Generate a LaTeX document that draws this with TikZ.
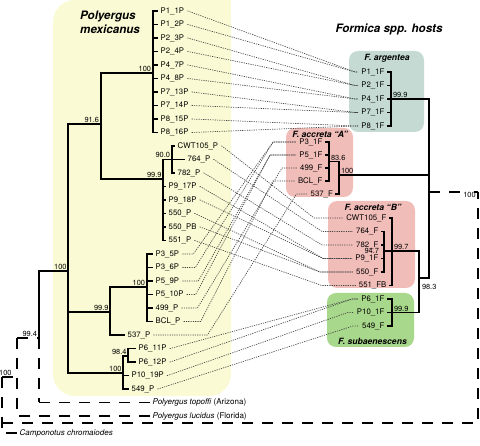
\documentclass[tikz,border=0pt]{standalone}
\usepackage{fontspec}
\setmainfont{TeX Gyre Heros}
\usetikzlibrary{calc}
\definecolor{ybg}{RGB}{250,250,212}
\definecolor{argc}{RGB}{196,218,211}
\definecolor{accc}{RGB}{241,189,185}
\definecolor{subc}{RGB}{168,216,139}
\definecolor{lnkc}{RGB}{70,70,70}
\newcommand\tipfont{\fontsize{7.8}{9}\selectfont}
\newcommand\supfont{\fontsize{7.4}{8}\selectfont}
\newcommand\boxfont{\fontsize{8.6}{10}\selectfont\bfseries\itshape}
\newcommand\titlefont{\fontsize{11.6}{14}\selectfont\bfseries\itshape}
\newcommand\outfont{\fontsize{8}{9}\selectfont}
\newcommand\lnk[4]{\draw[lnk] (#1.east) -- ++(#3,0) -- ($(#2.west)+(-#4,0)$) -- (#2.west);}
\begin{document}
\begin{tikzpicture}[x=1pt,y=-1pt,
  tipL/.style={anchor=west, inner xsep=3pt, inner ysep=1pt, font=\tipfont},
  tipR/.style={anchor=east, inner xsep=3pt, inner ysep=1pt, font=\tipfont},
  br/.style={line width=1.1pt, line cap=rect},
  dsh/.style={line width=1.2pt, dash pattern=on 11pt off 9pt},
  lnk/.style={draw=lnkc, line width=0.65pt, dash pattern=on 1.2pt off 1.1pt},
  supl/.style={font=\supfont, inner sep=0.8pt},
  boxlab/.style={font=\boxfont, inner sep=1pt}]
\useasboundingbox (0,0) rectangle (480,446);
% backgrounds
\fill[ybg, rounded corners=22] (53,0) rectangle (231,396);
\fill[ybg] (200,0) rectangle (231,30);
\fill[argc, rounded corners=9] (349,51) rectangle (424,132);
\fill[accc, rounded corners=9] (286,128) rectangle (353,197);
\fill[accc, rounded corners=9] (328,201) rectangle (415,288);
\fill[subc, rounded corners=9] (327,293) rectangle (414,347);
% titles
\node[font=\titlefont, anchor=west, align=left, inner sep=1pt] (t1) at (79,22) {Polyergus\\mexicanus};
\node[font=\titlefont, inner sep=1pt] (t2) at (389,29) {Formica spp. hosts};
\node[boxlab] (la) at (387,58) {F. argentea};
\node[boxlab] (lb) at (320,134.5) {F. accreta “A”};
\node[boxlab] (lc) at (373,207) {F. accreta “B”};
\node[boxlab] (ld) at (372.5,341) {F. subaenescens};
% Polyergus tips
\node[tipL] (p0) at (157.5,11) {P1\_1P};
\node[tipL] (p1) at (157.5,24.5) {P1\_2P};
\node[tipL] (p2) at (157.5,38) {P2\_3P};
\node[tipL] (p3) at (157.5,51.5) {P2\_4P};
\node[tipL] (p4) at (157.5,65) {P4\_7P};
\node[tipL] (p5) at (157.5,78.5) {P4\_8P};
\node[tipL] (p6) at (157.5,92) {P7\_13P};
\node[tipL] (p7) at (157.5,105.5) {P7\_14P};
\node[tipL] (p8) at (157.5,119) {P8\_15P};
\node[tipL] (p9) at (157.5,132.5) {P8\_16P};
\node[tipL] (p10) at (174.5,146) {CWT105\_P};
\node[tipL] (p11) at (184.5,159.5) {764\_P};
\node[tipL] (p12) at (174.5,173) {782\_P};
\node[tipL] (p13) at (165.5,186.5) {P9\_17P};
\node[tipL] (p14) at (165.5,200) {P9\_18P};
\node[tipL] (p15) at (165.5,213.5) {550\_P};
\node[tipL] (p16) at (165.5,227) {550\_PB};
\node[tipL] (p17) at (165.5,240.5) {551\_P};
\node[tipL] (p18) at (152.5,254) {P3\_5P};
\node[tipL] (p19) at (152.5,267.5) {P3\_6P};
\node[tipL] (p20) at (152.5,281) {P5\_9P};
\node[tipL] (p21) at (152.5,294.5) {P5\_10P};
\node[tipL] (p22) at (152.5,308) {499\_P};
\node[tipL] (p23) at (152.5,321.5) {BCL\_P};
\node[tipL] (p24) at (124.5,335) {537\_P};
\node[tipL] (p25) at (135.5,348.5) {P6\_11P};
\node[tipL] (p26) at (135.5,362) {P6\_12P};
\node[tipL] (p27) at (128.5,375.5) {P10\_19P};
\node[tipL] (p28) at (128.5,389) {549\_P};
\node[tipL,font=\outfont] (p29) at (149.5,402.5) {\textit{Polyergus topoffi} (Arizona)};
\node[tipL,font=\outfont] (p30) at (149.5,416) {\textit{Polyergus lucidus} (Florida)};
\node[tipL,font=\outfont] (p31) at (16.5,433) {\textit{Camponotus chromaiodes}};
% Formica tips
\node[tipR] (f0) at (387.5,72) {P1\_1F};
\node[tipR] (f1) at (387.5,85.5) {P2\_1F};
\node[tipR] (f2) at (387.5,99) {P4\_1F};
\node[tipR] (f3) at (387.5,112.5) {P7\_1F};
\node[tipR] (f4) at (387.5,126) {P8\_1F};
\node[tipR] (f5) at (325.5,142) {P3\_1F};
\node[tipR] (f6) at (325.5,155) {P5\_1F};
\node[tipR] (f7) at (325.5,168) {499\_F};
\node[tipR] (f8) at (325.5,181) {BCL\_F};
\node[tipR] (f9) at (336,194) {537\_F};
\node[tipR] (f10) at (389.5,218) {CWT105\_F};
\node[tipR] (f11) at (381.5,231.5) {764\_F};
\node[tipR] (f12) at (381.5,245) {782\_F};
\node[tipR] (f13) at (381.5,258.5) {P9\_1F};
\node[tipR] (f14) at (381.5,272) {550\_F};
\node[tipR] (f15) at (389.5,285.5) {551\_FB};
\node[tipR] (f16) at (387.5,299) {P6\_1F};
\node[tipR] (f17) at (387.5,312.5) {P10\_1F};
\node[tipR] (f18) at (387.5,326) {549\_F};
% association links
\lnk{p0}{f0}{0.5}{3}
\lnk{p1}{f0}{0.5}{3}
\lnk{p2}{f1}{0.5}{3}
\lnk{p3}{f1}{0.5}{3}
\lnk{p4}{f2}{0.5}{3}
\lnk{p5}{f2}{0.5}{3}
\lnk{p6}{f3}{0.5}{3}
\lnk{p7}{f3}{0.5}{3}
\lnk{p8}{f4}{0.5}{3}
\lnk{p9}{f4}{0.5}{3}
\lnk{p10}{f10}{0.5}{29}
\lnk{p11}{f11}{0.5}{31}
\lnk{p12}{f12}{0.5}{31}
\lnk{p13}{f13}{0.5}{29}
\lnk{p14}{f13}{0.5}{29}
\lnk{p15}{f14}{0.5}{33}
\lnk{p16}{f14}{0.5}{33}
\lnk{p17}{f15}{0.5}{34}
\lnk{p18}{f5}{11}{23}
\lnk{p19}{f5}{13}{23}
\lnk{p20}{f6}{16}{26}
\lnk{p21}{f6}{9}{26}
\lnk{p22}{f7}{16}{15}
\lnk{p23}{f8}{17}{22}
\lnk{p24}{f9}{54}{11}
\lnk{p25}{f16}{0.5}{6}
\lnk{p26}{f16}{0.5}{6}
\lnk{p27}{f17}{0.5}{6}
\lnk{p28}{f18}{0.5}{6}
% Polyergus tree
\foreach \i in {0,...,9} {\draw[br] (p\i.west) -- ++(-4.5,0);}
\foreach \i in {10,12,13,14,15,16,17} {\draw[br] (p\i.west) -- ++(-2.5,0);}
\draw[br] (p11.west) -- ++(-21.5,0);
\foreach \i in {18,...,23} {\draw[br] (p\i.west) -- ++(-5.5,0);}
\draw[br] (p24.west) -- ++(-14.5,0);
\foreach \i in {25,26} {\draw[br] (p\i.west) -- ++(-7.5,0);}
\foreach \i in {27,28} {\draw[br] (p\i.west) -- ++(-5.5,0);}
\draw[dsh] (p29.west) -- ++(-110.5,0);
\draw[dsh] (p30.west) -- ++(-132.5,0);
\draw[dsh] (p31.west) -- ++(-14.5,0);
\draw[br] (153,11) -- (153,132.5);
\draw[br] (101,73) -- (153,73);
\draw[br] (172,146) -- (172,173);
\draw[br] (163,159.5) -- (163,240.5);
\draw[br] (101,179) -- (163,179);
\draw[br] (101,73) -- (101,179);
\draw[br] (68,124) -- (101,124);
\draw[br] (147,254) -- (147,321.5);
\draw[br] (110,287) -- (147,287);
\draw[br] (110,287) -- (110,335);
\draw[br] (68,312) -- (110,312);
\draw[br] (128,348.5) -- (128,362);
\draw[br] (123,356) -- (128,356);
\draw[br] (123,356) -- (123,389);
\draw[br] (68,373) -- (123,373);
\draw[br] (68,124) -- (68,373);
\draw[br] (39,271) -- (68,271);
\draw[br] (39,271) -- (39,338);
\draw[dsh] (39,338) -- (39,402.5);
\draw[dsh] (17,338) -- (39,338);
\draw[dsh] (17,338) -- (17,416);
\draw[dsh] (2,377) -- (17,377);
\draw[dsh] (2,377) -- (2,433);
\draw[dsh] (2,423) -- (478,423) -- (478,192);
\draw[dsh] (474,192) -- (478,192);
% Polyergus supports
\node[supl, anchor=south east] (s1) at (152,73) {100};
\node[supl, anchor=south east] (s2) at (100,124) {91.6};
\node[supl, anchor=south east] (s3) at (171,158.5) {90.0};
\node[supl, anchor=south east] (s4) at (162.5,179) {99.9};
\node[supl, anchor=south east] (s5) at (67.5,271) {100};
\node[supl, anchor=south east] (s6) at (146,287) {100};
\node[supl, anchor=south east] (s7) at (109.5,312) {99.9};
\node[supl, anchor=south east] (s8) at (127.5,356) {98.4};
\node[supl, anchor=south east] (s9) at (122.5,373) {100};
\node[supl, anchor=south east] (s10) at (38,338) {99.4};
\node[supl, anchor=south east] (s11) at (12.5,376.5) {100};
% Formica tree
\foreach \i in {0,1,3,4,5,6,7,8} {\draw[br] (f\i.east) -- ++(3.5,0);}
\draw[br] (f2.east) -- ++(41.5,0);
\draw[br] (f9.east) -- ++(3,0);
\foreach \i in {10,11,12,13,14,15} {\draw[br] (f\i.east) -- ++(2.5,0);}
\foreach \i in {16,18} {\draw[br] (f\i.east) -- ++(4.5,0);}
\draw[br] (f17.east) -- ++(31.5,0);
\draw[br] (391,72) -- (391,126);
\draw[br] (329,142) -- (329,181);
\draw[br] (329,161.5) -- (339,161.5);
\draw[br] (339,161.5) -- (339,194);
\draw[br] (339,175) -- (429,175);
\draw[br] (384,231.5) -- (384,272);
\draw[br] (384,251) -- (419,251);
\draw[br] (392,218) -- (392,285.5);
\draw[br] (392,299) -- (392,326);
\draw[br] (419,251) -- (419,312.5);
\draw[br] (419,278) -- (429,278);
\draw[br] (429,99) -- (429,278);
\draw[dsh] (429,192) -- (461,192);
% Formica supports
\node[supl, anchor=south west] (r1) at (392,99) {99.9};
\node[supl, anchor=south west] (r2) at (330,161.5) {83.6};
\node[supl, anchor=south west] (r3) at (340,175) {100};
\node[supl, anchor=east] (r4) at (380,251) {94.7};
\node[supl, anchor=south west] (r5) at (393,251) {99.7};
\node[supl, anchor=south west] (r6) at (393,312.5) {99.9};
\node[supl, anchor=north west] (r7) at (421,283) {98.3};
\node[supl] (r8) at (469.5,195) {100};
\end{tikzpicture}
\end{document}
